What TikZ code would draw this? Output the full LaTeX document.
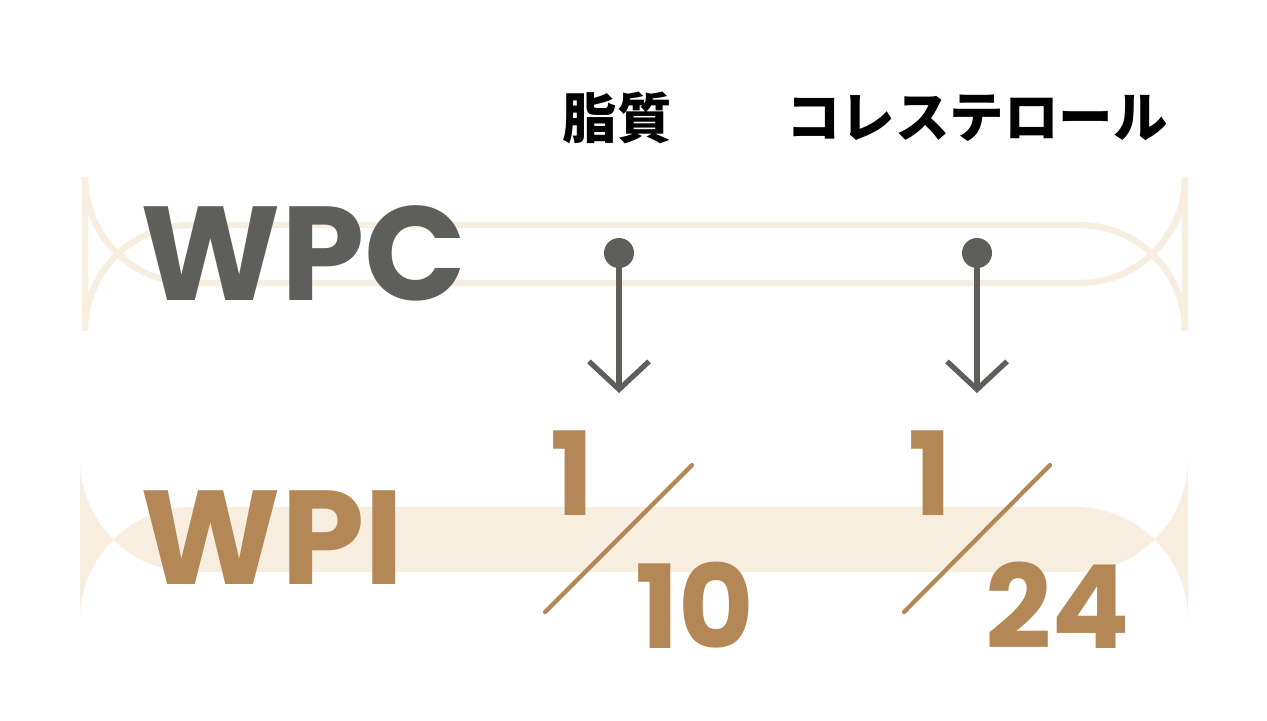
\documentclass[tikz,border=0pt]{standalone}
\usepackage{fontspec}
\setmainfont{Poppins}
\newfontfamily\cjk{Noto Sans CJK JP}
\usetikzlibrary{arrows.meta}
\definecolor{wpcgray}{HTML}{5E5E5A}
\definecolor{wpibrown}{HTML}{B38856}
\definecolor{barcream}{HTML}{F7EEDF}
\begin{document}
\begin{tikzpicture}[x=0.01cm,y=-0.01cm]
	\tikzstyle{header}=[font=\cjk\bfseries\fontsize{15.5}{18}\selectfont,text=black]
	\tikzstyle{bigname}=[font=\bfseries\fontsize{38}{40}\selectfont,inner sep=0pt]
	\tikzstyle{num}=[font=\bfseries\fontsize{33}{36}\selectfont,text=wpibrown,inner sep=0pt]
	\tikzstyle{dot}=[circle,fill=wpcgray,minimum size=30\pgflinewidth,inner sep=0pt]
	\tikzstyle{slash}=[draw=wpibrown,line width=1.2pt,line cap=round]
	\useasboundingbox (0,0) rectangle (1267,720);
	\fill[white] (0,0) rectangle (1267,720);
	% bars
	\draw[barcream,line width=1.8pt,rounded corners=30] (85,225) rectangle (1185,283);
	\fill[barcream,rounded corners=32] (80,507) rectangle (1188,572);
	% headers
	\node[header] (fat) at (617,118) {脂質};
	\node[header] (chol) at (977,118) {コレステロール};
	% row names
	\node[bigname,text=wpcgray,anchor=west] (wpc) at (140,253) {WPC};
	\node[bigname,text=wpibrown,anchor=west] (wpi) at (140,538) {WPI};
	% arrows
	\node[circle,fill=wpcgray,minimum size=0.3cm,inner sep=0pt] (d1) at (619,253) {};
	\node[circle,fill=wpcgray,minimum size=0.3cm,inner sep=0pt] (d2) at (977,253) {};
	\coordinate (e1) at (619,393);
	\coordinate (e2) at (977,393);
	\foreach \d/\e in {d1/e1,d2/e2}
		\draw[wpcgray,line width=1.5pt,-{Straight Barb[length=0.28cm,width=0.6cm,line width=1.5pt]}] (\d.center) -- (\e);
	% fractions
	\node[num] (n1) at (572,473) {1};
	\node[num] (q1) at (695,605) {10};
	\draw[slash] (545,612) -- (692,465);
	\node[num] (n2) at (930,473) {1};
	\node[num] (q2) at (1058,605) {24};
	\draw[slash] (904,612) -- (1050,465);
\end{tikzpicture}
\end{document}
